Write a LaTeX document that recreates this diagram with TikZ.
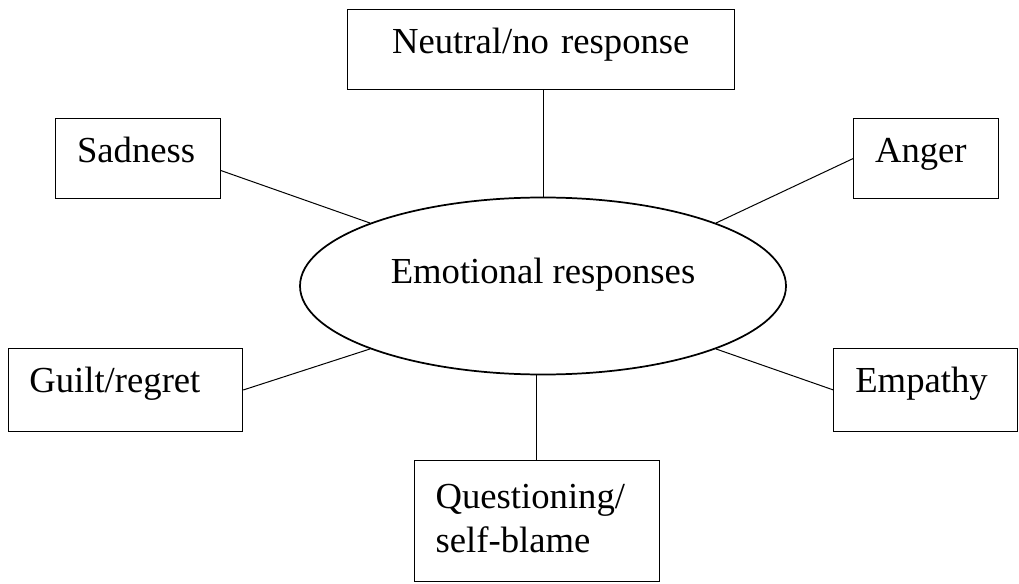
\documentclass[tikz,border=0pt]{standalone}
\usepackage{fontspec}
\setmainfont{Liberation Serif}
\usetikzlibrary{shapes.geometric}

\begin{document}
\begin{tikzpicture}[x=0.75pt, y=-0.75pt,
  every node/.style={font=\fontsize{27.5pt}{33pt}\selectfont},
  box/.style={draw, line width=0.75pt, rectangle, inner ysep=0pt, inner xsep=16pt, align=left},
  hub/.style={draw, line width=1.3pt, ellipse, inner sep=0pt,
    minimum width=364.5pt, minimum height=132.75pt, text height=18.75pt, text depth=23.25pt},
  link/.style={line width=0.75pt}]
  \useasboundingbox (0,0) rectangle (1019,584);

  % central ellipse
  \node[hub] (emo) at (543,286) {Emotional responses};

  % surrounding categories
  \node[box, inner xsep=0pt, align=center, text width=290.25pt, text height=32.5pt, text depth=27pt]
    (neu) at (540.8,49.65) {Neutral/no response};
  \node[box, text width=91.45pt, text height=33.4pt, text depth=26.9pt]
    (sad) at (138,158.5) {Sadness};
  \node[box, text width=76.2pt, text height=33.4pt, text depth=26.9pt]
    (ang) at (925.85,158.5) {Anger};
  \node[box, text width=144pt, text height=33pt, text depth=29.55pt]
    (gui) at (125.35,390) {Guilt/regret};
  \node[box, text width=105.8pt, text height=33pt, text depth=29.55pt]
    (emp) at (925.85,390) {Empathy};
  \node[box, text width=151.75pt, text height=35.5pt, text depth=54.75pt]
    (que) at (536.8,520.85) {Questioning/\\self-blame};

  % connectors
  \draw[link] (neu.south -| emo.north) -- (emo.north);
  \draw[link] ([yshift=-9pt]sad.east) -- (emo.160);
  \draw[link] (ang.west) -- (emo.20);
  \draw[link] (gui.east) -- (emo.200);
  \draw[link] (emp.west) -- (emo.340);
  \draw[link] (que.north) -- (que.north |- emo.south);
\end{tikzpicture}
\end{document}
